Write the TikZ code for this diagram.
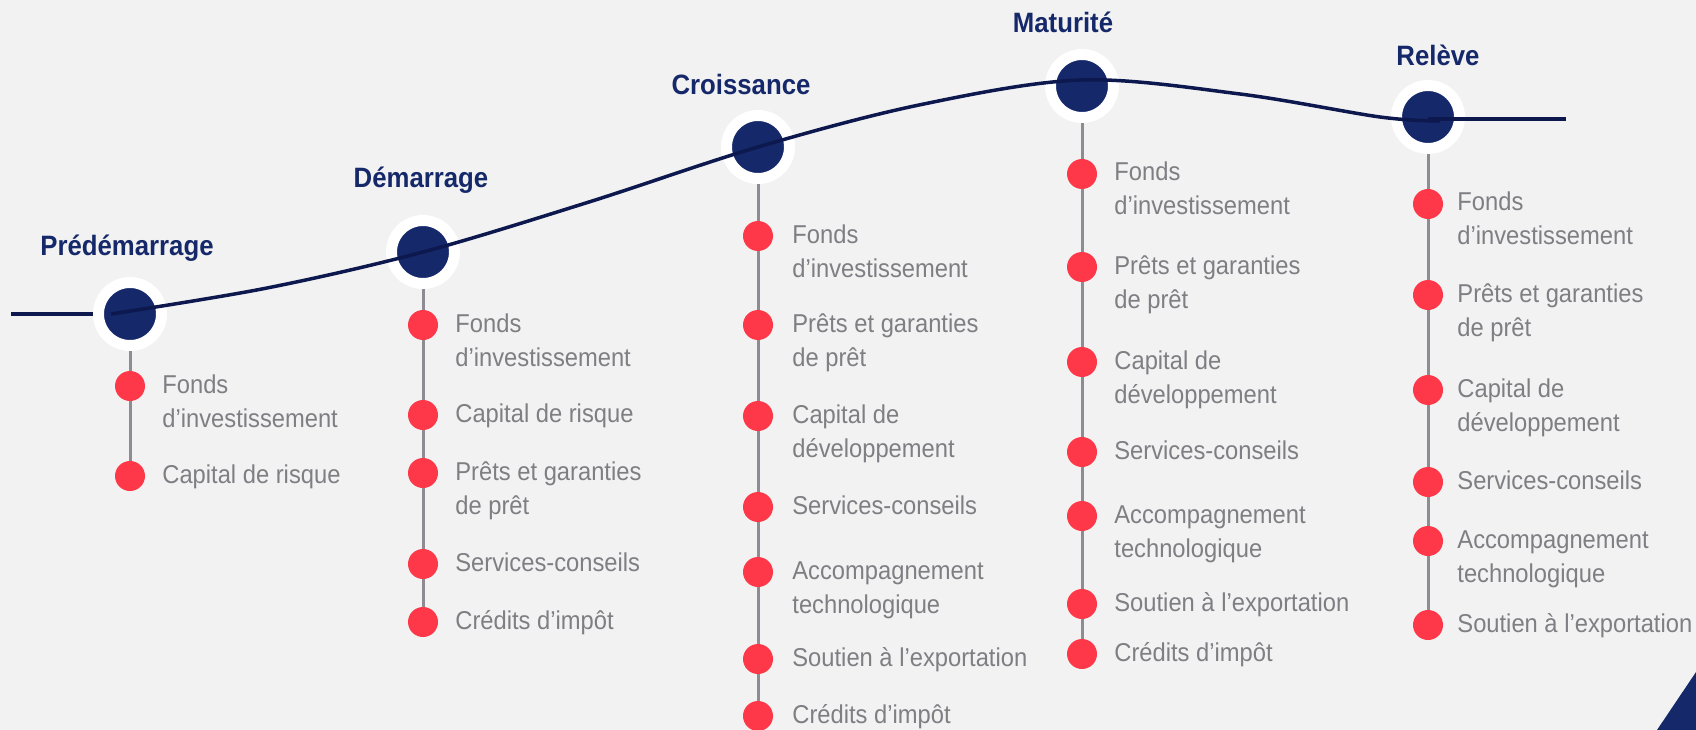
\documentclass[tikz,border=0pt]{standalone}
\usepackage{fontspec}
\setmainfont{Liberation Sans}[FakeStretch=0.92]
\usetikzlibrary{positioning}
\definecolor{navy}{RGB}{21,40,106}
\definecolor{curvenavy}{RGB}{12,24,78}
\definecolor{stemgrey}{RGB}{140,140,146}
\definecolor{dotred}{RGB}{254,56,72}
\definecolor{itemgrey}{RGB}{126,126,131}
\definecolor{paper}{RGB}{242,242,242}
\pgfdeclarelayer{bg}
\pgfdeclarelayer{lines}
\pgfsetlayers{bg,lines,main}
% two lines, baseline on the first one
\newcommand{\twolines}[2]{\vtop{\hbox{#1}\hbox{#2}}}

\begin{document}
\begin{tikzpicture}[x=1pt, y=-1pt,
    stage/.style={circle, fill=navy, draw=white, line width=11pt, minimum size=63pt, inner sep=0pt},
    bullet/.style={circle, fill=dotred, minimum size=30pt, inner sep=0pt},
    item/.style={text=itemgrey, inner sep=0pt, anchor=base west, font=\fontsize{25.8}{34}\selectfont},
    stagelabel/.style={text=navy, inner sep=0pt, anchor=base, font=\fontsize{28}{34}\selectfont\bfseries},
    stem/.style={draw=stemgrey, line width=3pt},
    track/.style={draw=curvenavy, line width=3.5pt}
]
    \useasboundingbox (0,0) rectangle (1696,730);
    \begin{pgfonlayer}{bg}
        \fill[paper] (0,0) rectangle (1696,730);
    \end{pgfonlayer}

    % Stages
    \node[stage] (s1) at (130,314) {};
    \node[stage] (s2) at (423,252) {};
    \node[stage] (s3) at (758,147) {};
    \node[stage] (s4) at (1082,86) {};
    \node[stage] (s5) at (1428,117) {};

    \node[stagelabel] (l1) at (127,255) {Prédémarrage};
    \node[stagelabel] (l2) at (421,187) {Démarrage};
    \node[stagelabel] (l3) at (741,95) {Croissance};
    \node[stagelabel] (l4) at (1063,33) {Maturité};
    \node[stagelabel] (l5) at (1438,66) {Relève};

    % Prédémarrage
    \node[bullet] (a1) at (130,386) {};
    \node[bullet] (a2) at (130,476) {};
    \node[item] (ta1) at ([xshift=17pt,yshift=-7pt]a1.east) {\twolines{Fonds}{d’investissement}};
    \node[item] (ta2) at ([xshift=17pt,yshift=-7pt]a2.east) {Capital de risque};

    % Démarrage
    \node[bullet] (b1) at (423,325) {};
    \node[bullet] (b2) at (423,415) {};
    \node[bullet] (b3) at (423,473) {};
    \node[bullet] (b4) at (423,564) {};
    \node[bullet] (b5) at (423,622) {};
    \node[item] (tb1) at ([xshift=17pt,yshift=-7pt]b1.east) {\twolines{Fonds}{d’investissement}};
    \node[item] (tb2) at ([xshift=17pt,yshift=-7pt]b2.east) {Capital de risque};
    \node[item] (tb3) at ([xshift=17pt,yshift=-7pt]b3.east) {\twolines{Prêts et garanties}{de prêt}};
    \node[item] (tb4) at ([xshift=17pt,yshift=-7pt]b4.east) {Services-conseils};
    \node[item] (tb5) at ([xshift=17pt,yshift=-7pt]b5.east) {Crédits d’impôt};

    % Croissance
    \node[bullet] (c1) at (758,236) {};
    \node[bullet] (c2) at (758,325) {};
    \node[bullet] (c3) at (758,416) {};
    \node[bullet] (c4) at (758,507) {};
    \node[bullet] (c5) at (758,572) {};
    \node[bullet] (c6) at (758,659) {};
    \node[bullet] (c7) at (758,716) {};
    \node[item] (tc1) at ([xshift=19pt,yshift=-7pt]c1.east) {\twolines{Fonds}{d’investissement}};
    \node[item] (tc2) at ([xshift=19pt,yshift=-7pt]c2.east) {\twolines{Prêts et garanties}{de prêt}};
    \node[item] (tc3) at ([xshift=19pt,yshift=-7pt]c3.east) {\twolines{Capital de}{développement}};
    \node[item] (tc4) at ([xshift=19pt,yshift=-7pt]c4.east) {Services-conseils};
    \node[item] (tc5) at ([xshift=19pt,yshift=-7pt]c5.east) {\twolines{Accompagnement}{technologique}};
    \node[item] (tc6) at ([xshift=19pt,yshift=-7pt]c6.east) {Soutien à l’exportation};
    \node[item] (tc7) at ([xshift=19pt,yshift=-7pt]c7.east) {Crédits d’impôt};

    % Maturité
    \node[bullet] (m1) at (1082,174) {};
    \node[bullet] (m2) at (1082,267) {};
    \node[bullet] (m3) at (1082,362) {};
    \node[bullet] (m4) at (1082,452) {};
    \node[bullet] (m5) at (1082,516) {};
    \node[bullet] (m6) at (1082,604) {};
    \node[bullet] (m7) at (1082,654) {};
    \node[item] (tm1) at ([xshift=17pt,yshift=-7pt]m1.east) {\twolines{Fonds}{d’investissement}};
    \node[item] (tm2) at ([xshift=17pt,yshift=-7pt]m2.east) {\twolines{Prêts et garanties}{de prêt}};
    \node[item] (tm3) at ([xshift=17pt,yshift=-7pt]m3.east) {\twolines{Capital de}{développement}};
    \node[item] (tm4) at ([xshift=17pt,yshift=-7pt]m4.east) {Services-conseils};
    \node[item] (tm5) at ([xshift=17pt,yshift=-7pt]m5.east) {\twolines{Accompagnement}{technologique}};
    \node[item] (tm6) at ([xshift=17pt,yshift=-7pt]m6.east) {Soutien à l’exportation};
    \node[item] (tm7) at ([xshift=17pt,yshift=-7pt]m7.east) {Crédits d’impôt};

    % Relève
    \node[bullet] (r1) at (1428,204) {};
    \node[bullet] (r2) at (1428,295) {};
    \node[bullet] (r3) at (1428,390) {};
    \node[bullet] (r4) at (1428,482) {};
    \node[bullet] (r5) at (1428,541) {};
    \node[bullet] (r6) at (1428,625) {};
    \node[item] (tr1) at ([xshift=14pt,yshift=-7pt]r1.east) {\twolines{Fonds}{d’investissement}};
    \node[item] (tr2) at ([xshift=14pt,yshift=-7pt]r2.east) {\twolines{Prêts et garanties}{de prêt}};
    \node[item] (tr3) at ([xshift=14pt,yshift=-7pt]r3.east) {\twolines{Capital de}{développement}};
    \node[item] (tr4) at ([xshift=14pt,yshift=-7pt]r4.east) {Services-conseils};
    \node[item] (tr5) at ([xshift=14pt,yshift=-7pt]r5.east) {\twolines{Accompagnement}{technologique}};
    \node[item] (tr6) at ([xshift=14pt,yshift=-7pt]r6.east) {Soutien à l’exportation};

    % Stems and track ends
    \coordinate (lstart) at (11,314);
    \coordinate (rend) at (1566,119);
    \begin{pgfonlayer}{lines}
        \draw[stem] (s1) -- (a2);
        \draw[stem] (s2) -- (b5);
        \draw[stem] (s3) -- (c7);
        \draw[stem] (s4) -- (m7);
        \draw[stem] (s5) -- (r6);
        \draw[track] (lstart) -- (s1.center);
    \end{pgfonlayer}

    % Growth curve
    \draw[track] plot[smooth, tension=0.55] coordinates {(111,314) (267,288) (s2.center) (589,202) (s3.center) (919,105) (1081,80) (1240,94) (1380,117) (1440,121)};
    \draw[track] (s5.center |- rend) -- (rend);

    % Corner
    \fill[navy] (1657,730) -- (1696,672) -- (1696,730) -- cycle;
\end{tikzpicture}
\end{document}
